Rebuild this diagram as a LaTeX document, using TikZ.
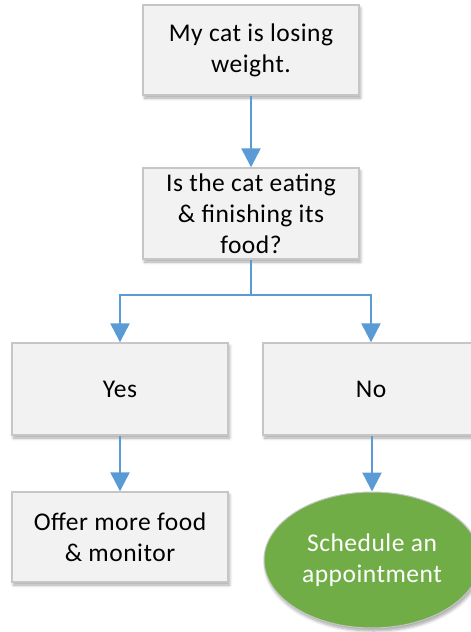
\documentclass[tikz,border=0pt]{standalone}
\usepackage{fontspec}
\setmainfont[LetterSpace=2]{Carlito}
\usetikzlibrary{arrows.meta,shapes.geometric,shadows.blur}
\definecolor{boxfill}{HTML}{F2F2F2}
\definecolor{boxline}{HTML}{C6C6C6}
\definecolor{arrowblue}{HTML}{5B9BD5}
\definecolor{okgreen}{HTML}{70AD47}
\tikzset{
  x=1pt, y=1pt,
  boxshadow/.style={blur shadow={shadow xshift=1.5pt, shadow yshift=-3pt, shadow blur steps=6, shadow opacity=35, shadow blur radius=3pt}},
  flowbox/.style={draw=boxline, line width=1.4pt, fill=boxfill, boxshadow, minimum width=216pt, minimum height=90pt, inner sep=0pt, align=center, font=\fontsize{25.5}{31}\selectfont, text=black},
  endoval/.style={ellipse, draw=boxline, line width=1pt, fill=okgreen, boxshadow, minimum width=216pt, minimum height=136pt, inner sep=0pt, align=center, font=\fontsize{25.5}{31}\selectfont, text=white},
  flowarrow/.style={draw=arrowblue, line width=2.4pt, -{Triangle[length=19pt,width=19pt]}}
}
\begin{document}
\begin{tikzpicture}
\useasboundingbox (0,0) rectangle (471,-632);
\clip (0,0) rectangle (471,-632);
\node[flowbox] (cat) at (251,-50) {My cat is losing\\weight.};
\node[flowbox, minimum height=91pt] (eat) at (251,-213.5) {Is the cat eating\\\& finishing its\\food?};
\node[flowbox, minimum height=92pt] (yes) at (120,-389) {Yes};
\node[flowbox, minimum height=92pt] (no) at (371,-389) {No};
\node[flowbox] (offer) at (120,-537) {Offer more food\\\& monitor};
\node[endoval] (appt) at (372,-560) {Schedule an\\appointment};
\coordinate (split) at (251,-295);
\draw[flowarrow] (cat.south) -- (eat.north);
\draw[flowarrow] (eat.south) -- (split) -| (yes.north);
\draw[flowarrow] (split) -| (no.north);
\draw[flowarrow] (yes.south) -- (offer.north);
\draw[flowarrow] (no.south -| appt.north) -- (appt.north);
\end{tikzpicture}
\end{document}
